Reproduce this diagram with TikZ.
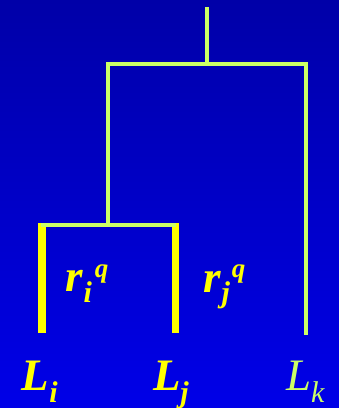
\documentclass[tikz,border=0pt]{standalone}
\usepackage{fontspec}
\setmainfont{Liberation Serif}
\definecolor{bgtop}{RGB}{0,0,168}
\definecolor{bgbot}{RGB}{0,0,232}
\definecolor{lime}{RGB}{204,255,102}
\definecolor{yel}{RGB}{255,255,0}
\newcommand\bigf{\fontsize{45}{50}\selectfont}
\newcommand\subf{\fontsize{30}{34}\selectfont}
\newcommand\supf{\fontsize{27}{30}\selectfont}
\tikzset{
  thinbranch/.style={draw=lime, line width=4pt, line cap=rect},
  thickbranch/.style={draw=yel, line width=7.5pt},
  lab/.style={inner sep=0pt, outer sep=0pt, anchor=base west, text=yel, font=\bfseries\itshape\bigf},
  labk/.style={inner sep=0pt, outer sep=0pt, anchor=base west, text=lime, font=\itshape\bigf}
}
\begin{document}
\begin{tikzpicture}[x=1pt,y=-1pt]
\useasboundingbox (0,0) rectangle (339,408);
\shade[top color=bgtop, bottom color=bgbot] (0,0) rectangle (339,408);
% coordinates of the tree
\coordinate (root) at (207,9);
\coordinate (n1) at (207,64);
\coordinate (n1l) at (108,64);
\coordinate (n1r) at (306,64);
\coordinate (kbot) at (306,333);
\coordinate (n2) at (108,225);
\coordinate (n2l) at (43,225);
\coordinate (n2r) at (174,225);
\coordinate (itop) at (42,223);
\coordinate (ibot) at (42,333);
\coordinate (jtop) at (175.5,223);
\coordinate (jbot) at (175.5,333);
% thick branches
\draw[thickbranch] (itop) -- (ibot);
\draw[thickbranch] (jtop) -- (jbot);
% thin branches
\draw[thinbranch] (root) -- (n1);
\draw[thinbranch] (n1l) -- (n1r);
\draw[thinbranch] (n1l) -- (n2);
\draw[thinbranch] (n1r) -- (kbot);
\draw[thinbranch] (n2l) -- (n2r);
% labels
\node[lab] (ri) at (66,291) {r\raisebox{-11pt}{\subf i}\kern3pt\raisebox{14pt}{\supf q}};
\node[lab] (rj) at (204,292) {r\raisebox{-10pt}{\subf j}\kern2pt\raisebox{15pt}{\supf q}};
\node[lab] (Li) at (22,390) {L\raisebox{-12pt}{\subf i}};
\node[lab] (Lj) at (153,390) {L\raisebox{-12pt}{\subf j}};
\node[labk] (Lk) at (286,390) {L\raisebox{-12pt}{\subf k}};
\end{tikzpicture}
\end{document}
